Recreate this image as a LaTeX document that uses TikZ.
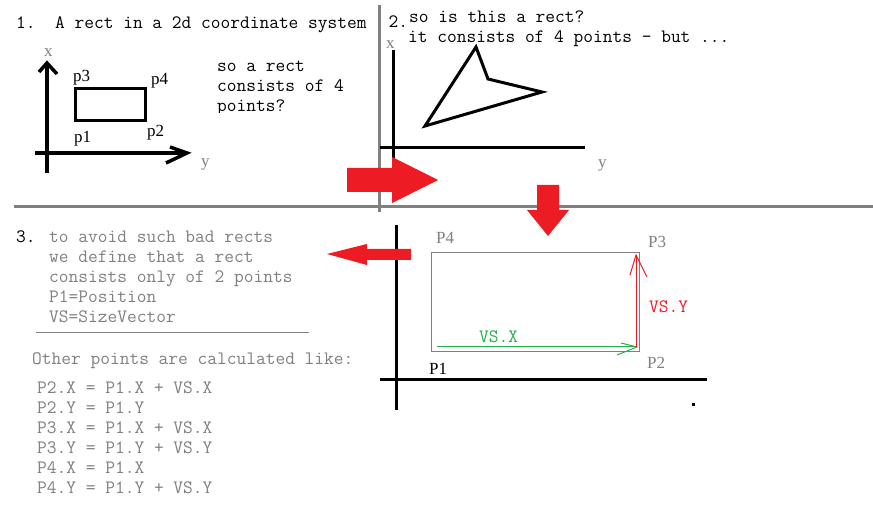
\documentclass[tikz,border=0pt]{standalone}
\usepackage{fontspec}
\newfontfamily\lblfont{Liberation Serif}
\definecolor{txtgray}{HTML}{808080}
\definecolor{pred}{HTML}{ED1C24}
\definecolor{pgreen}{HTML}{22B14C}
\begin{document}
\begin{tikzpicture}[x=1pt,y=-1pt,
  mono/.style={font=\fontsize{18.9}{20}\selectfont\ttfamily, inner sep=0pt, anchor=base west},
  graytxt/.style={mono, text=txtgray},
  lbl/.style={font=\fontsize{17}{20}\selectfont\lblfont, inner sep=0pt, anchor=base west},
  graylbl/.style={lbl, text=txtgray},
  divider/.style={draw=txtgray, line width=3pt},
  axis/.style={draw=black, line width=3.5pt},
  shapeline/.style={draw=black, line width=3pt, line join=miter},
  bigarrow/.style={fill=pred, draw=none}
]
\useasboundingbox[fill=white] (0,0) rectangle (873,521);

% dividers
\draw[divider] (379,5) -- (379,212);
\draw[divider] (14,207) -- (873,207);

% ---------- panel 1 ----------
\node[mono] (t1) at (16,29) {1.\ \ A rect in a 2d coordinate system};
\draw[axis] (47,63) -- (47,173);
\draw[axis] (39,72) -- (47,63) -- (57,74);
\draw[axis] (35,153) -- (187,153);
\draw[axis] (170,147) -- (187,153) -- (166,163);
\node[graylbl] (x1) at (44,57) {x};
\node[graylbl] (y1) at (201,167) {y};
\draw[shapeline] (75.5,88.5) rectangle (145.5,120.5);
\node[lbl] (p3) at (73,82) {p3};
\node[lbl] (p4) at (151,85) {p4};
\node[lbl] (p1) at (74,143) {p1};
\node[lbl] (p2) at (147,137) {p2};
\begin{scope}
  \clip (200,50) rectangle (375,113);
  \node[mono] (s1) at (217,72) {so a rect};
  \node[mono] (s2) at (217,92) {consists of 4};
  \node[mono] (s3) at (217,112) {points?};
\end{scope}

% ---------- panel 2 ----------
\node[mono] (t2) at (388.5,28) {2.};
\node[mono] (t2a) at (409,23) {so is this a rect?};
\node[mono] (t2b) at (408,43) {it consists of 4 points - but ...};
\node[graylbl] (x2) at (386,49) {x};
\node[graylbl] (y2) at (598,168) {y};
\draw[axis, line width=3pt] (393,50) -- (393,180);
\draw[axis, line width=3pt] (380,148) -- (585,148);
\draw[shapeline] (425,126) -- (476,47) -- (488,79) -- (542,92) -- cycle;

% ---------- panel 3 text ----------
\node[mono] (t3) at (16,243) {3.};
\node[graytxt] (l1) at (49,243) {to avoid such bad rects};
\node[graytxt] (l2) at (49,263) {we define that a rect};
\node[graytxt] (l3) at (49,283) {consists only of 2 points};
\node[graytxt] (l4) at (49,303) {P1=Position};
\node[graytxt] (l5) at (49,323) {VS=SizeVector};
\draw[txtgray, line width=1pt] (36,333) -- (309,333);
\node[graytxt] (o1) at (32,364) {Other points are calculated like:};
\node[graytxt] (e1) at (37,393) {P2.X = P1.X + VS.X};
\node[graytxt] (e2) at (37,413) {P2.Y = P1.Y};
\node[graytxt] (e3) at (37,433) {P3.X = P1.X + VS.X};
\node[graytxt] (e4) at (37,453) {P3.Y = P1.Y + VS.Y};
\node[graytxt] (e5) at (37,473) {P4.X = P1.X};
\node[graytxt] (e6) at (37,493) {P4.Y = P1.Y + VS.Y};

% ---------- panel 4 ----------
\draw[axis, line width=3pt] (396,225) -- (396,410);
\draw[axis, line width=3pt] (380,379) -- (707,379);
\draw[txtgray, line width=1pt] (431.5,252.5) rectangle (639.5,351.5);
\draw[pgreen, line width=1pt] (437,347) -- (637,347);
\draw[pgreen, line width=1pt] (621,343) -- (637,347) -- (617,355);
\draw[pred, line width=1pt] (636,347) -- (636,255);
\draw[pred, line width=1pt] (630,275) -- (636,255) -- (647,277);
\node[graylbl] (P4) at (436,244) {P4};
\node[graylbl] (P3) at (648,248) {P3};
\node[lbl] (P1) at (429,374) {P1};
\node[graylbl] (P2) at (647,369) {P2};
\node[mono, text=pgreen] (vsx) at (479,343) {VS.X};
\node[mono, text=pred] (vsy) at (649,313) {VS.Y};
\fill[black] (692,403) rectangle (695,406);

% ---------- red arrows ----------
\fill[bigarrow] (347,168) -- (392,168) -- (392,157) -- (438,180) -- (392,203) -- (392,192) -- (347,192) -- cycle;
\fill[bigarrow] (537,185) -- (559,185) -- (559,210) -- (569,210) -- (548,236) -- (527,210) -- (537,210) -- cycle;
\fill[bigarrow] (411,249) -- (367,249) -- (367,244) -- (327,254) -- (367,265) -- (367,260) -- (411,260) -- cycle;
\end{tikzpicture}
\end{document}
